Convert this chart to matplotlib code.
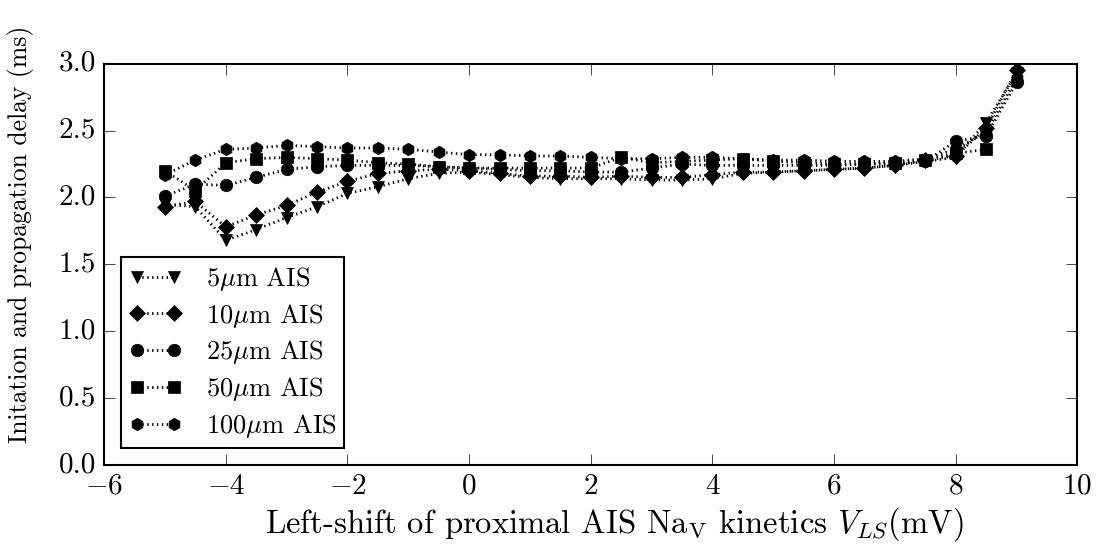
import matplotlib
matplotlib.use("Agg")
import matplotlib.pyplot as plt

nan = float("nan")

# left-shift values (mV)
shift = [-5, -4.5, -4, -3.5, -3, -2.5, -2, -1.5, -1, -0.5, 0, 0.5, 1, 1.5, 2,
         2.5, 3, 3.5, 4, 4.5, 5, 5.5, 6, 6.5, 7, 7.5, 8, 8.5, 9]

# delays (ms) per AIS length
delay_5 = [1.95, 1.93, 1.68, 1.76, 1.85, 1.93, 2.03, 2.08, 2.14, 2.18, 2.19, 2.17, 2.15, 2.14, 2.14,
           2.14, 2.13, 2.13, 2.14, 2.18, 2.19, 2.20, 2.21, 2.22, 2.24, 2.27, 2.30, 2.56, 2.93]
delay_10 = [1.93, 1.97, 1.78, 1.87, 1.94, 2.04, 2.12, 2.18, 2.20, 2.21, 2.20, 2.18, 2.16, 2.16, 2.15,
            2.16, 2.15, 2.15, 2.17, 2.19, 2.19, 2.20, 2.21, 2.22, 2.24, 2.28, 2.31, 2.52, 2.95]
delay_25 = [2.01, 2.10, 2.09, 2.15, 2.21, 2.23, 2.24, 2.24, 2.24, 2.23, 2.22, 2.21, 2.20, 2.20, 2.19,
            2.19, 2.22, 2.25, 2.24, 2.24, 2.24, 2.24, 2.24, 2.25, 2.25, 2.27, 2.42, 2.46, 2.86]
delay_50 = [2.20, 2.05, 2.26, 2.29, 2.30, 2.29, 2.28, 2.26, 2.25, 2.23, 2.22, 2.22, 2.22, 2.22, 2.22,
            2.30, 2.26, 2.27, 2.28, 2.29, 2.27, 2.26, 2.25, 2.25, 2.26, 2.28, 2.33, 2.36, nan]
delay_100 = [2.17, 2.28, 2.36, 2.37, 2.39, 2.38, 2.37, 2.37, 2.36, 2.34, 2.32, 2.32, 2.31, 2.31, 2.30,
             2.29, 2.29, 2.30, 2.30, 2.29, 2.28, 2.28, 2.27, 2.27, 2.27, 2.29, 2.36, 2.49, 2.89]

series = [
    (delay_5, "v", r"5$\mu$m AIS"),
    (delay_10, "D", r"10$\mu$m AIS"),
    (delay_25, "o", r"25$\mu$m AIS"),
    (delay_50, "s", r"50$\mu$m AIS"),
    (delay_100, "h", r"100$\mu$m AIS"),
]

plt.style.use("classic")
plt.rcParams["font.family"] = ["cmr10", "DejaVu Serif"]
plt.rcParams["mathtext.fontset"] = "cm"
plt.rcParams["axes.formatter.use_mathtext"] = True

fig = plt.figure(figsize=(10.96, 5.45), dpi=100, facecolor="white")
ax = fig.add_axes([0.095, 0.147, 0.888, 0.736])

for vals, mk, lab in series:
    ax.plot(shift, vals, linestyle=(0, (1, 2.5)), color="k", linewidth=2, marker=mk,
            markersize=9 if mk != "D" else 8, markerfacecolor="k", markeredgecolor="k", label=lab)

ax.set_xlim(-6, 10)
ax.set_ylim(0, 3.0)
ax.set_xticks(range(-6, 11, 2))
ax.set_yticks([0.0, 0.5, 1.0, 1.5, 2.0, 2.5, 3.0])
ax.set_yticklabels(["0.0", "0.5", "1.0", "1.5", "2.0", "2.5", "3.0"])
ax.tick_params(labelsize=21, direction="in", length=8, pad=6)
for sp in ax.spines.values():
    sp.set_linewidth(1.5)

ax.set_xlabel(r"Left-shift of proximal AIS Na$_\mathrm{V}$ kinetics $V_{LS}$(mV)", fontsize=23.5)
ax.set_ylabel("Initation and propagation delay (ms)", fontsize=18.5)
ax.xaxis.set_label_coords(0.524, -0.100)
ax.yaxis.set_label_coords(-0.072, 0.574)

leg = ax.legend(loc="lower left", numpoints=2, fontsize=19, frameon=True, handlelength=2.0,
                labelspacing=0.33, borderaxespad=0.65, handletextpad=0.9, borderpad=0.3)
leg.get_frame().set_linewidth(1.5)
leg.get_frame().set_edgecolor("k")

fig.savefig("out.png", dpi=100, facecolor="white")
